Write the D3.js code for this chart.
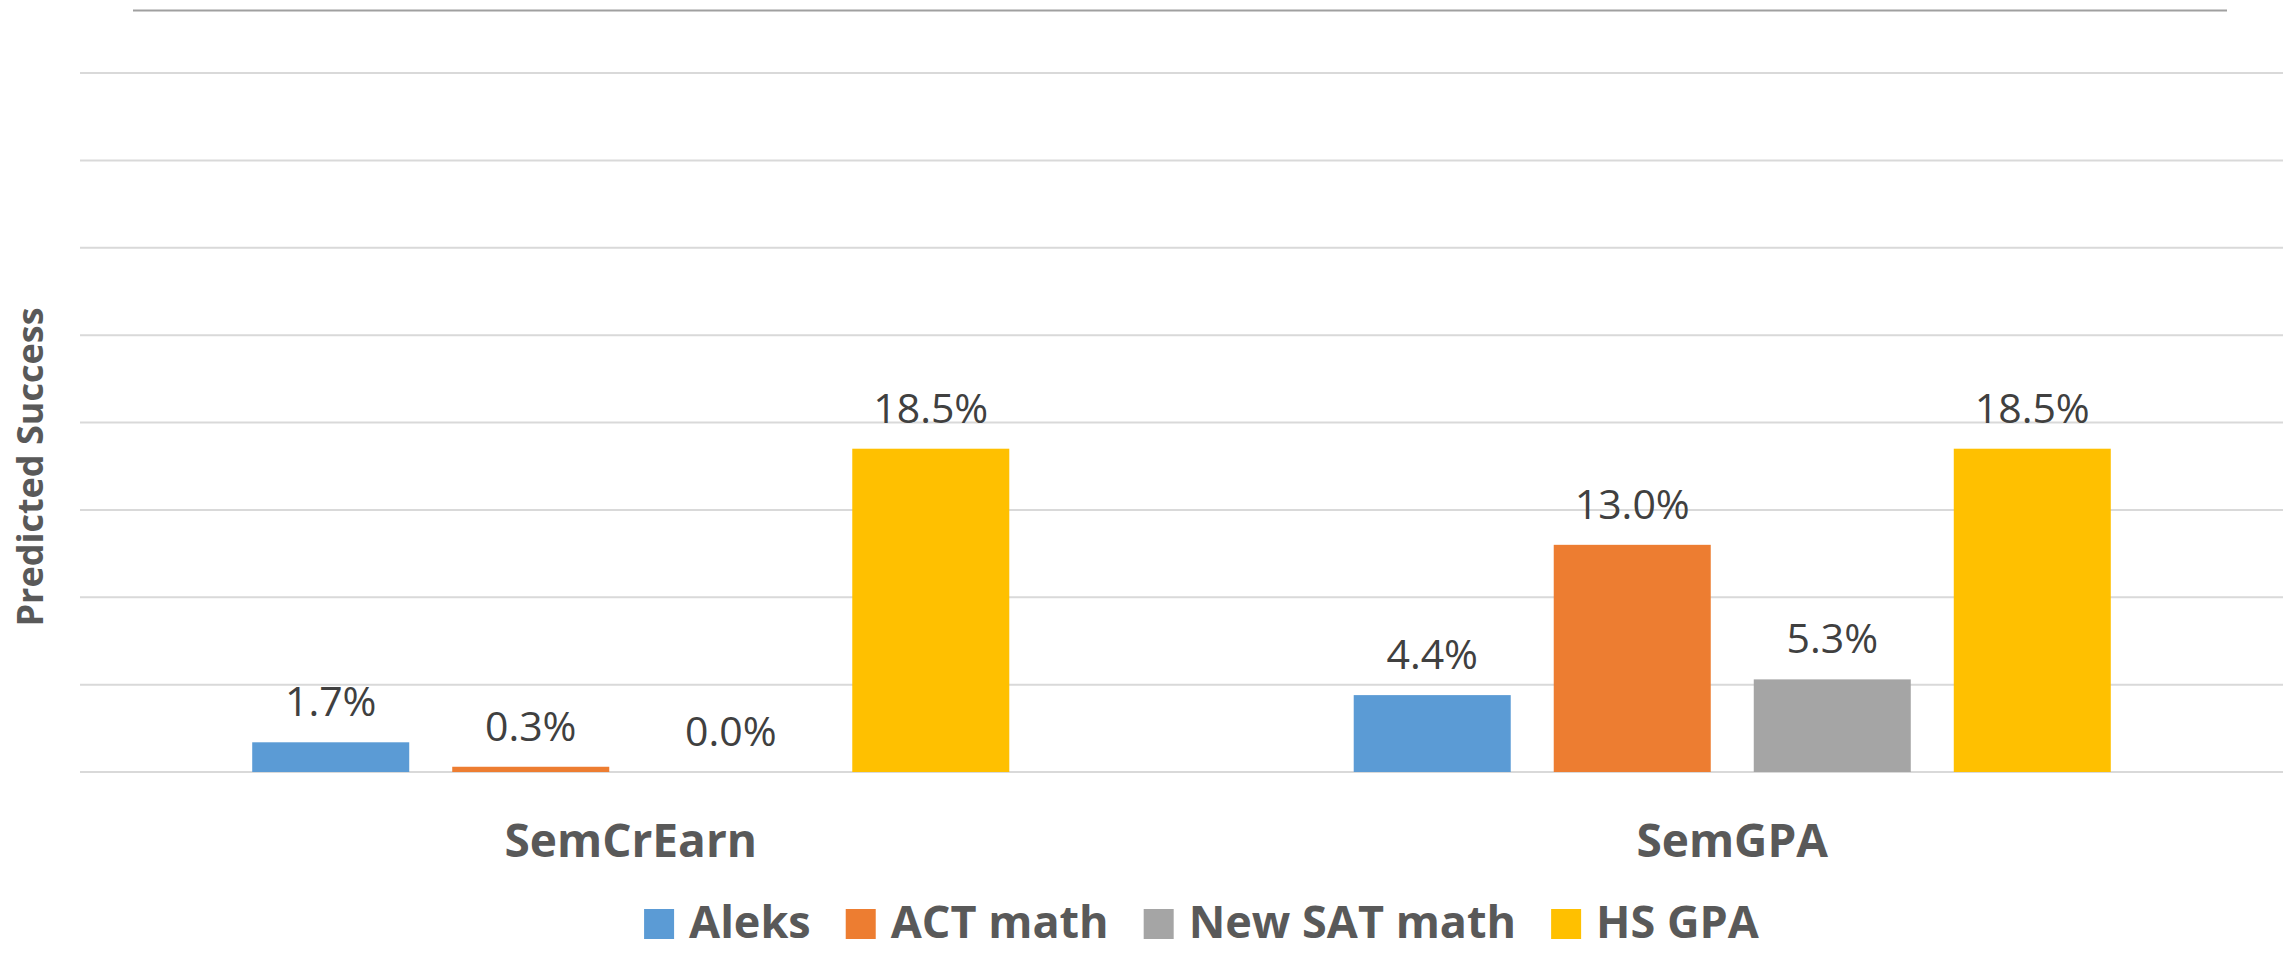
<!DOCTYPE html>
<html>
<head>
<meta charset="utf-8">
<script src="https://cdn.jsdelivr.net/npm/d3@7"></script>
<style>
  body { margin: 0; background: #fff; }
  svg { display: block; font-family: "Open Sans", sans-serif; }
</style>
</head>
<body>
<svg width="2295" height="953"></svg>
<script>
var categories = ["SemCrEarn", "SemGPA"];
var seriesNames = ["Aleks", "ACT math", "New SAT math", "HS GPA"];
var seriesColors = ["#5b9bd5", "#ed7d31", "#a5a5a5", "#ffc000"];
// values in percent, one array per series (SemCrEarn, SemGPA)
var aleks = [1.7, 4.4];
var actMath = [0.3, 13.0];
var newSatMath = [0.0, 5.3];
var hsGpa = [18.5, 18.5];
var yTicks = [0, 5, 10, 15, 20, 25, 30, 35, 40];

var seriesValues = [aleks, actMath, newSatMath, hsGpa];

var svg = d3.select("svg"),
    plotLeft = 80, plotRight = 2283, plotTop = 73, plotBottom = 772;

var x0 = d3.scaleBand().domain(categories).range([plotLeft, plotRight]);
var x1 = d3.scaleBand().domain(seriesNames)
    .range([0, x0.bandwidth()])
    .paddingInner(0.215)
    .paddingOuter(0.861);
var y = d3.scaleLinear().domain([0, 40]).range([plotBottom, plotTop]);

// thin line along the top of the chart
svg.append("line")
    .attr("x1", 133).attr("x2", 2227)
    .attr("y1", 10.5).attr("y2", 10.5)
    .attr("stroke", "#a0a0a0")
    .attr("stroke-width", 2);

// gridlines
svg.append("g")
  .selectAll("line")
  .data(yTicks)
  .enter().append("line")
    .attr("x1", plotLeft).attr("x2", plotRight)
    .attr("y1", function(d) { return y(d); })
    .attr("y2", function(d) { return y(d); })
    .attr("stroke", "#d9d9d9")
    .attr("stroke-width", 2);

// bars
var rows = [];
categories.forEach(function(c, i) {
  seriesNames.forEach(function(s, j) {
    rows.push({cat: c, series: s, color: seriesColors[j], value: seriesValues[j][i]});
  });
});

var g = svg.append("g");
g.selectAll("rect")
  .data(rows)
  .enter().append("rect")
    .attr("x", function(d) { return x0(d.cat) + x1(d.series); })
    .attr("y", function(d) { return y(d.value); })
    .attr("width", x1.bandwidth())
    .attr("height", function(d) { return y(0) - y(d.value); })
    .attr("fill", function(d) { return d.color; });

// data labels
g.selectAll("text")
  .data(rows)
  .enter().append("text")
    .attr("x", function(d) { return x0(d.cat) + x1(d.series) + x1.bandwidth() / 2; })
    .attr("y", function(d) { return y(d.value) - 26; })
    .attr("text-anchor", "middle")
    .attr("font-size", 41)
    .attr("fill", "#404040")
    .text(function(d) { return d.value.toFixed(1) + "%"; });

// category labels
svg.append("g")
  .selectAll("text")
  .data(categories)
  .enter().append("text")
    .attr("x", function(d) { return x0(d) + x0.bandwidth() / 2; })
    .attr("y", 856.5)
    .attr("text-anchor", "middle")
    .attr("font-size", 46)
    .attr("font-weight", "bold")
    .attr("fill", "#595959")
    .text(function(d) { return d; });

// y axis title
svg.append("text")
    .attr("transform", "translate(43,467) rotate(-90)")
    .attr("text-anchor", "middle")
    .attr("font-size", 36)
    .attr("font-weight", "bold")
    .attr("fill", "#595959")
    .text("Predicted Success");

// legend
var legend = svg.append("g");
var items = legend.selectAll("g")
  .data(seriesNames)
  .enter().append("g");

items.append("rect")
    .attr("width", 30).attr("height", 30)
    .attr("y", 909)
    .attr("fill", function(d, i) { return seriesColors[i]; });

items.append("text")
    .attr("x", 45)
    .attr("y", 938)
    .attr("font-size", 45)
    .attr("font-weight", "bold")
    .attr("fill", "#595959")
    .text(function(d) { return d; });

var widths = [];
items.select("text").each(function() { widths.push(this.getComputedTextLength()); });
var total = d3.sum(widths) + widths.length * 45 + (widths.length - 1) * 35;
var pos = 1201.5 - total / 2;
items.attr("transform", function(d, i) {
  var t = "translate(" + pos + ",0)";
  pos += 45 + widths[i] + 35;
  return t;
});
</script>
</body>
</html>
